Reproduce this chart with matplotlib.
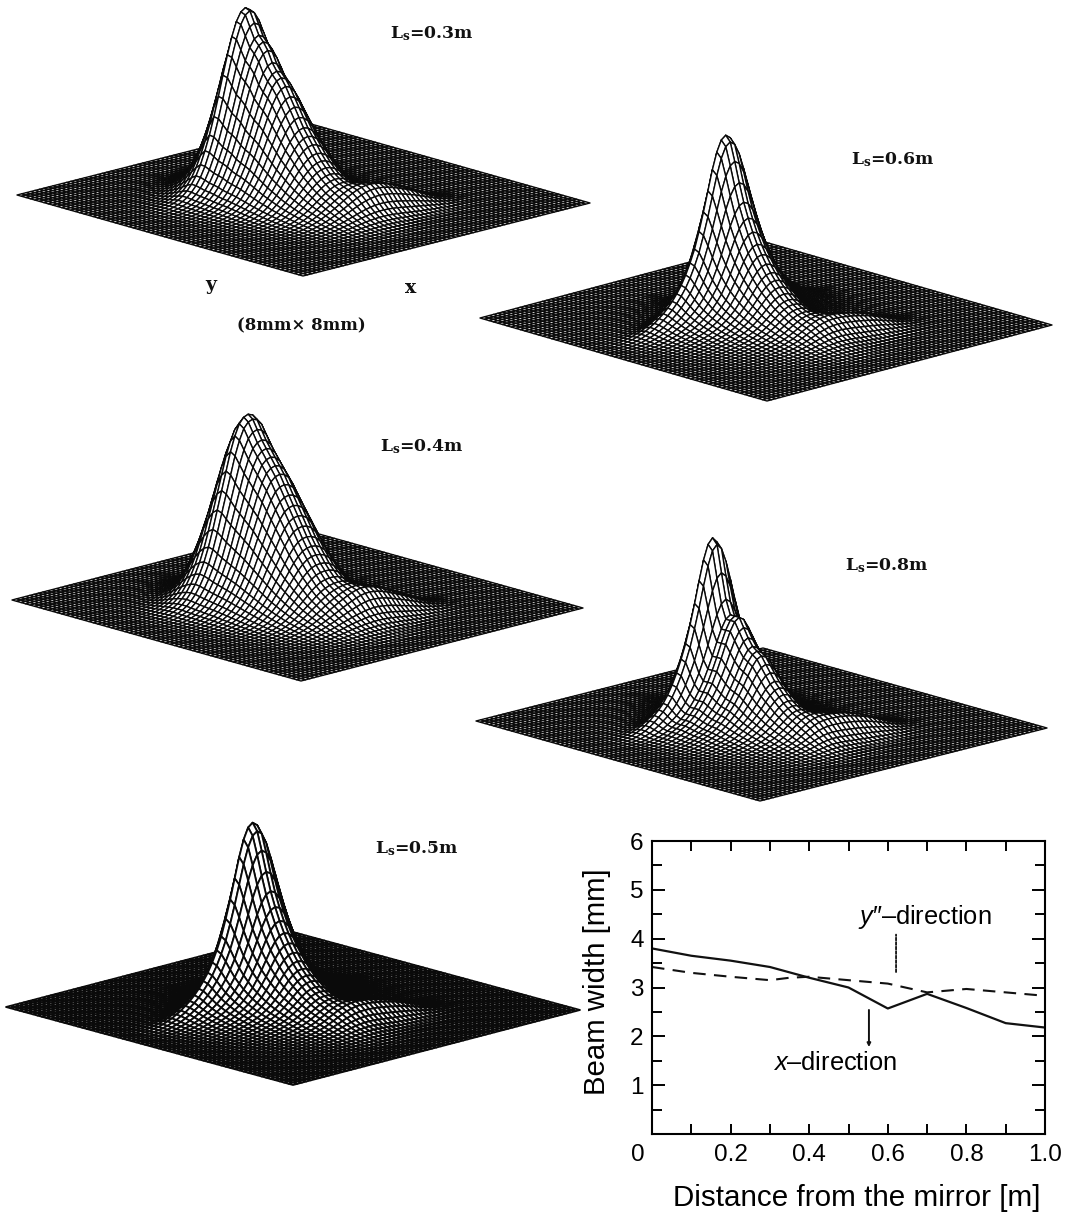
import numpy as np
import matplotlib
matplotlib.use("Agg")
import matplotlib.pyplot as plt
from matplotlib.collections import PolyCollection
from matplotlib.transforms import ScaledTranslation

W, H = 1068, 1217

# beam profiles (65 grid lines per side), normalised to the peak
u_03 = [0, 0, 0, 0, 0, 0, 0, .002, .005, .01,
        .02, .035, .055, .085, .125, .18, .25, .34, .45, .58,
        .73, .88, 1, .99, .93, .87, .84, .80, .74, .70,
        .67, .63, .58, .53, .48, .43, .39, .35, .31, .275,
        .245, .215, .19, .165, .145, .125, .108, .09, .075, .06,
        .048, .036, .026, .018, .012, .007, .004, .002, 0, 0,
        0, 0, 0, 0, 0]
v_03 = [0, 0, 0, 0, 0, 0, 0, 0, 0, 0,
        0, 0, 0, .001, .002, .004, .007, .011, .017, .025,
        .036, .052, .075, .105, .145, .20, .27, .35, .445, .55,
        .66, .766, .86, .936, .983, 1, .983, .936, .86, .766,
        .66, .55, .445, .35, .27, .20, .145, .105, .075, .052,
        .036, .025, .017, .011, .007, .004, .002, .001, 0, 0,
        0, 0, 0, 0, 0]
u_06 = [0, 0, 0, 0, 0, 0, 0, 0, 0, 0,
        .002, .004, .007, .012, .018, .027, .04, .055, .075, .10,
        .135, .19, .27, .40, .60, .84, 1, .97, .87, .76,
        .66, .58, .51, .45, .40, .355, .315, .28, .25, .22,
        .195, .175, .155, .135, .118, .102, .09, .078, .066, .056,
        .045, .036, .028, .021, .015, .01, .006, .003, .001, 0,
        0, 0, 0, 0, 0]
v_06 = [0, 0, 0, 0, 0, 0, 0, 0, 0, 0,
        0, .002, .004, .008, .013, .02, .03, .04, .055, .07,
        .09, .11, .135, .165, .20, .24, .29, .35, .42, .51,
        .61, .72, .83, .92, .98, 1, .98, .92, .83, .72,
        .61, .51, .42, .35, .29, .24, .20, .165, .135, .11,
        .09, .07, .055, .04, .03, .02, .013, .008, .004, .002,
        0, 0, 0, 0, 0]
u_04 = [0, 0, 0, 0, 0, .001, .002, .004, .007, .012,
        .02, .03, .045, .07, .10, .145, .21, .29, .39, .51,
        .64, .77, .88, .96, 1, .98, .93, .88, .84, .80,
        .76, .72, .67, .62, .57, .52, .47, .42, .375, .335,
        .295, .26, .225, .195, .17, .145, .125, .105, .087, .07,
        .055, .042, .03, .021, .014, .009, .005, .002, 0, 0,
        0, 0, 0, 0, 0]
v_04 = [0, 0, 0, 0, 0, 0, 0, 0, 0, 0,
        0, 0, 0, .001, .003, .005, .009, .015, .024, .036,
        .052, .075, .105, .145, .195, .255, .33, .42, .52, .62,
        .72, .82, .90, .96, .99, 1, .99, .96, .90, .82,
        .72, .62, .52, .42, .33, .255, .195, .145, .105, .075,
        .052, .036, .024, .015, .009, .005, .003, .001, 0, 0,
        0, 0, 0, 0, 0]
u_08 = [0, 0, 0, 0, 0, 0, .001, .002, .003, .005,
        .008, .012, .018, .026, .036, .05, .07, .095, .13, .18,
        .26, .38, .58, .82, 1, .97, .82, .68, .60, .60,
        .60, .55, .50, .46, .44, .42, .38, .34, .30, .27,
        .24, .21, .185, .16, .14, .12, .10, .085, .07, .058,
        .046, .035, .026, .018, .012, .007, .004, .001, 0, 0,
        0, 0, 0, 0, 0]
v_08 = [0, 0, 0, 0, 0, 0, 0, 0, 0, 0,
        0, 0, 0, 0, .002, .004, .008, .014, .024, .036,
        .052, .072, .095, .12, .15, .19, .24, .30, .37, .45,
        .55, .66, .78, .89, .97, 1, .97, .89, .78, .66,
        .55, .45, .37, .30, .24, .19, .15, .12, .095, .072,
        .052, .036, .024, .014, .008, .004, .002, 0, 0, 0,
        0, 0, 0, 0, 0]
u_05 = [0, 0, 0, 0, 0, 0, 0, 0, 0, 0,
        .002, .004, .007, .012, .018, .027, .04, .055, .075, .10,
        .14, .20, .29, .42, .62, .84, 1, .96, .86, .75,
        .65, .57, .50, .44, .39, .345, .305, .27, .24, .215,
        .19, .17, .15, .132, .116, .10, .088, .076, .065, .055,
        .045, .036, .028, .021, .015, .01, .006, .003, .001, 0,
        0, 0, 0, 0, 0]
v_05 = [0, 0, 0, 0, 0, 0, 0, 0, 0, 0,
        0, .002, .004, .008, .013, .02, .03, .04, .055, .07,
        .09, .11, .135, .165, .20, .24, .29, .35, .42, .51,
        .61, .72, .83, .92, .98, 1, .98, .92, .83, .72,
        .61, .51, .42, .35, .29, .24, .20, .165, .135, .11,
        .09, .07, .055, .04, .03, .02, .013, .008, .004, .002,
        0, 0, 0, 0, 0]

# the low ridge in front of the main peak
ridge_u = [0, 0, 0, 0, 0, 0, 0, 0, 0, 0,
           0, 0, 0, 0, 0, 0, 0, 0, 0, 0,
           0, 0, 0, 0, 0, 0, 0, 0, 0, 0,
           0, 0, 0, 0, 0, 0, 0, 0, 0, 0,
           0, .05, .15, .35, .6, .85, 1, .95, .75, .5,
           .3, .15, .07, .02, 0, 0, 0, 0, 0, 0,
           0, 0, 0, 0, 0]
ridge_v = [0, 0, 0, 0, 0, 0, 0, 0, 0, 0,
           0, 0, .01, .03, .06, .10, .16, .23, .32, .42,
           .53, .64, .74, .83, .90, .95, .98, 1, .99, .96,
           .90, .82, .72, .60, .48, .36, .25, .16, .09, .05,
           .02, .01, 0, 0, 0, 0, 0, 0, 0, 0,
           0, 0, 0, 0, 0, 0, 0, 0, 0, 0,
           0, 0, 0, 0, 0]

panel_labels = ["0.3m", "0.6m", "0.4m", "0.8m", "0.5m"]
panel_u = [u_03, u_06, u_04, u_08, u_05]
panel_v = [v_03, v_06, v_04, v_08, v_05]
peak_px = [182, 182, 183, 180, 182]
ridge_px = [20, 15, 18, 18, 15]
mesh_lw = [1.0, 1.0, 1.0, 1.0, 1.3]

# beam width curves
dist = [0, .1, .2, .3, .4, .5, .6, .7, .8, .9, 1.0]
width_x = [3.8, 3.65, 3.55, 3.42, 3.2, 3.0, 2.57, 2.87, 2.58, 2.27, 2.18]
dist_y = [0, .1, .2, .3, .35, .4, .5, .6, .7, .8, .9, 1.0]
width_y = [3.42, 3.3, 3.22, 3.15, 3.2, 3.22, 3.15, 3.08, 2.9, 2.97, 2.9, 2.83]

# floor corners in pixels: back, right, left
corners = [((304, 122), (590, 203), (17, 195)),
           ((765, 242), (1052, 325), (480, 318)),
           ((294, 527), (583, 608), (12, 600)),
           ((763, 648), (1047, 728), (476, 721)),
           ((293, 932), (580, 1010), (6, 1007))]
label_pos = [(390, 34), (851, 160), (380, 447), (845, 566), (375, 849)]

plt.rcParams["mathtext.fontset"] = "custom"
plt.rcParams["mathtext.rm"] = "DejaVu Serif:bold"
plt.rcParams["mathtext.it"] = "Liberation Sans:italic"

fig = plt.figure(figsize=(W / 100, H / 100), dpi=100)
ax = fig.add_axes([0, 0, 1, 1])
ax.set_xlim(0, W)
ax.set_ylim(H, 0)
ax.axis("off")


def draw_surface(ax, back, right, left, fu, fv, peak, ridge, lw):
    fu, fv = np.array(fu), np.array(fv)
    z = peak * np.outer(fu, fv) + ridge * np.outer(ridge_u, ridge_v)
    n = len(fu)
    t = np.linspace(0, 1, n)
    uu, vv = np.meshgrid(t, t, indexing="ij")
    sx = back[0] + uu * (right[0] - back[0]) + vv * (left[0] - back[0])
    sy = back[1] + uu * (right[1] - back[1]) + vv * (left[1] - back[1]) - z
    polys = []
    # painter's order, far corner first
    order = sorted(((i, j) for i in range(n - 1) for j in range(n - 1)), key=lambda p: p[0] + p[1])
    for i, j in order:
        polys.append([(sx[i, j], sy[i, j]), (sx[i + 1, j], sy[i + 1, j]),
                      (sx[i + 1, j + 1], sy[i + 1, j + 1]), (sx[i, j + 1], sy[i, j + 1])])
    ax.add_collection(PolyCollection(polys, facecolors="white", edgecolors="#0a0a0a", linewidths=lw))


for k in range(5):
    back, right, left = corners[k]
    draw_surface(ax, back, right, left, panel_u[k], panel_v[k], peak_px[k], ridge_px[k], mesh_lw[k])
    ax.text(label_pos[k][0], label_pos[k][1], r"$\mathrm{L_s}$=" + panel_labels[k],
            family="DejaVu Serif", weight="bold", fontsize=12.4, va="center", ha="left", color="#111111")

ax.text(211, 285, "y", family="DejaVu Serif", weight="bold", fontsize=13.5, ha="center", va="center", color="#111111")
ax.text(411, 288, "x", family="DejaVu Serif", weight="bold", fontsize=13.5, ha="center", va="center", color="#111111")
ax.text(301, 326, "(8mm× 8mm)", family="DejaVu Serif", weight="bold", fontsize=11.9, ha="center", va="center", color="#111111")

# beam width plot
ax2 = fig.add_axes([652 / W, 1 - 1134 / H, 393 / W, 293 / H])
ax2.plot(dist, width_x, color="#111111", lw=1.6)
ax2.plot(dist_y, width_y, color="#111111", lw=1.5, dashes=(6, 4))
ax2.set_xlim(0, 1)
ax2.set_ylim(0, 6)
ax2.set_xticks(np.arange(0, 1.01, 0.2), ["0", "0.2", "0.4", "0.6", "0.8", "1.0"])
ax2.set_xticks(np.arange(0.1, 1, 0.2), minor=True)
ax2.set_yticks(range(1, 7))
ax2.set_yticks(np.arange(0.5, 6, 1), minor=True)
ax2.tick_params(which="major", axis="y", direction="in", left=True, right=True, length=9.5, width=1.4, pad=6, labelsize=17.5)
ax2.tick_params(which="minor", axis="y", direction="in", left=True, right=True, length=7, width=1.4)
ax2.tick_params(which="both", axis="x", direction="in", bottom=True, top=True, length=7.5, width=1.4, pad=7, labelsize=17.5)
for label in ax2.get_xticklabels() + ax2.get_yticklabels():
    label.set_family("Liberation Sans")
zero = ax2.get_xticklabels()[0]
zero.set_transform(zero.get_transform() + ScaledTranslation(-14 / 100, 0, fig.dpi_scale_trans))
for s in ax2.spines.values():
    s.set_linewidth(1.5)
ax2.set_xlabel("Distance from the mirror [m]", family="Liberation Sans", fontsize=21.3, labelpad=13, x=0.52)
ax2.set_ylabel("Beam width [mm]", family="Liberation Sans", fontsize=21.2, labelpad=14, y=0.52)
ax2.text(0.524, 4.44, r"$\mathit{y}$″–direction", family="Liberation Sans", fontsize=18.3, va="center")
ax2.text(0.308, 1.45, r"$\mathit{x}$–direction", family="Liberation Sans", fontsize=18.3, va="center")
ax2.annotate("", xy=(0.621, 4.14), xytext=(0.621, 3.26),
             arrowprops=dict(arrowstyle="-", lw=1.3, linestyle=(0, (1.5, 1)), color="#111111"))
ax2.annotate("", xy=(0.552, 1.78), xytext=(0.552, 2.54),
             arrowprops=dict(arrowstyle="-|>", lw=1.4, color="#111111", mutation_scale=5, shrinkA=0, shrinkB=0))

fig.savefig("out.png", dpi=100)
